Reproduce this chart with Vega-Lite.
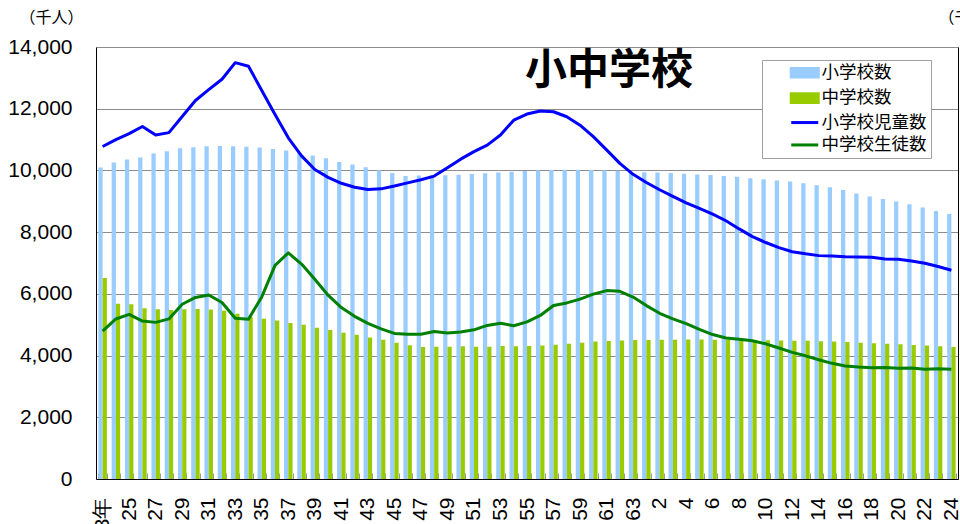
{
  "$schema": "https://vega.github.io/schema/vega-lite/v6.json",
  "width": 862,
  "height": 432,
  "autosize": {"type": "none"},
  "padding": {"left": 96, "top": 47, "right": 2, "bottom": 45},
  "background": "white",
  "title": {"text": "小中学校", "anchor": "start", "frame": "group", "orient": "top", "offset": 0, "dx": 429, "dy": 104, "baseline": "middle", "font": "Noto Sans CJK JP", "fontSize": 42, "fontWeight": "bold", "color": "black"},
  "config": {
    "view": {"stroke": null},
    "axis": {"labelFont": "Liberation Sans", "labelFontSize": 21, "labelColor": "black", "domainColor": "black", "domainWidth": 1, "titleFont": "Noto Sans CJK JP", "titleFontSize": 16, "titleFontWeight": "normal", "titleColor": "black"}
  },
  "data": {"values": [
    {"年": 1948, "小学校数": 25237, "中学校数": 16285, "小学校児童数": 10775, "中学校生徒数": 4793},
    {"年": 1949, "小学校数": 25638, "中学校数": 14200, "小学校児童数": 11000, "中学校生徒数": 5186},
    {"年": 1950, "小学校数": 25878, "中学校数": 14165, "小学校児童数": 11191, "中学校生徒数": 5333},
    {"年": 1951, "小学校数": 26056, "中学校数": 13836, "小学校児童数": 11423, "中学校生徒数": 5119},
    {"年": 1952, "小学校数": 26377, "中学校数": 13748, "小学校児童数": 11148, "中学校生徒数": 5076},
    {"年": 1953, "小学校数": 26555, "中学校数": 13685, "小学校児童数": 11225, "中学校生徒数": 5188},
    {"年": 1954, "小学校数": 26804, "中学校数": 13755, "小学校児童数": 11750, "中学校生徒数": 5664},
    {"年": 1955, "小学校数": 26880, "中学校数": 13767, "小学校児童数": 12267, "中学校生徒数": 5884},
    {"年": 1956, "小学校数": 26957, "中学校数": 13724, "小学校児童数": 12616, "中学校生徒数": 5963},
    {"年": 1957, "小学校数": 26988, "中学校数": 13622, "小学校児童数": 12956, "中学校生徒数": 5718},
    {"年": 1958, "小学校数": 26964, "中学校数": 13392, "小学校児童数": 13492, "中学校生徒数": 5210},
    {"年": 1959, "小学校数": 26916, "中学校数": 13129, "小学校児童数": 13375, "中学校生徒数": 5181},
    {"年": 1960, "小学校数": 26858, "中学校数": 12986, "小学校児童数": 12591, "中学校生徒数": 5900},
    {"年": 1961, "小学校数": 26741, "中学校数": 12849, "小学校児童数": 11811, "中学校生徒数": 6925},
    {"年": 1962, "小学校数": 26615, "中学校数": 12647, "小学校児童数": 11057, "中学校生徒数": 7328},
    {"年": 1963, "小学校数": 26423, "中学校数": 12502, "小学校児童数": 10471, "中学校生徒数": 6964},
    {"年": 1964, "小学校数": 26210, "中学校数": 12263, "小学校児童数": 10030, "中学校生徒数": 6475},
    {"年": 1965, "小学校数": 25977, "中学校数": 12079, "小学校児童数": 9776, "中学校生徒数": 5957},
    {"年": 1966, "小学校数": 25687, "中学校数": 11851, "小学校児童数": 9584, "中学校生徒数": 5556},
    {"年": 1967, "小学校数": 25487, "中学校数": 11684, "小学校児童数": 9453, "中学校生徒数": 5271},
    {"年": 1968, "小学校数": 25262, "中学校数": 11463, "小学校児童数": 9384, "中学校生徒数": 5044},
    {"年": 1969, "小学校数": 25013, "中学校数": 11278, "小学校児童数": 9403, "中学校生徒数": 4865},
    {"年": 1970, "小学校数": 24790, "中学校数": 11040, "小学校児童数": 9493, "中学校生徒数": 4717},
    {"年": 1971, "小学校数": 24540, "中学校数": 10839, "小学校児童数": 9596, "中学校生徒数": 4694},
    {"年": 1972, "小学校数": 24592, "中学校数": 10686, "小学校児童数": 9696, "中学校生徒数": 4688},
    {"年": 1973, "小学校数": 24592, "中学校数": 10710, "小学校児童数": 9816, "中学校生徒数": 4779},
    {"年": 1974, "小学校数": 24606, "中学校数": 10716, "小学校児童数": 10089, "中学校生徒数": 4735},
    {"年": 1975, "小学校数": 24650, "中学校数": 10751, "小学校児童数": 10365, "中学校生徒数": 4762},
    {"年": 1976, "小学校数": 24717, "中学校数": 10719, "小学校児童数": 10610, "中学校生徒数": 4834},
    {"年": 1977, "小学校数": 24777, "中学校数": 10723, "小学校児童数": 10820, "中学校生徒数": 4977},
    {"年": 1978, "小学校数": 24828, "中学校数": 10778, "小学校児童数": 11147, "中学校生徒数": 5048},
    {"年": 1979, "小学校数": 24899, "中学校数": 10746, "小学校児童数": 11630, "中学校生徒数": 4966},
    {"年": 1980, "小学校数": 24945, "中学校数": 10780, "小学校児童数": 11827, "中学校生徒数": 5094},
    {"年": 1981, "小学校数": 25005, "中学校数": 10810, "小学校児童数": 11925, "中学校生徒数": 5300},
    {"年": 1982, "小学校数": 25043, "中学校数": 10879, "小学校児童数": 11902, "中学校生徒数": 5624},
    {"年": 1983, "小学校数": 25045, "中学校数": 10950, "小学校児童数": 11739, "中学校生徒数": 5706},
    {"年": 1984, "小学校数": 25064, "中学校数": 11047, "小学校児童数": 11465, "中学校生徒数": 5828},
    {"年": 1985, "小学校数": 25040, "中学校数": 11131, "小学校児童数": 11095, "中学校生徒数": 5990},
    {"年": 1986, "小学校数": 25020, "中学校数": 11190, "小学校児童数": 10665, "中学校生徒数": 6106},
    {"年": 1987, "小学校数": 24982, "中学校数": 11230, "小学校児童数": 10227, "中学校生徒数": 6081},
    {"年": 1988, "小学校数": 24901, "中学校数": 11266, "小学校児童数": 9873, "中学校生徒数": 5896},
    {"年": 1989, "小学校数": 24851, "中学校数": 11264, "小学校児童数": 9607, "中学校生徒数": 5619},
    {"年": 1990, "小学校数": 24827, "中学校数": 11275, "小学校児童数": 9373, "中学校生徒数": 5369},
    {"年": 1991, "小学校数": 24798, "中学校数": 11290, "小学校児童数": 9157, "中学校生徒数": 5188},
    {"年": 1992, "小学校数": 24730, "中学校数": 11292, "小学校児童数": 8947, "中学校生徒数": 5037},
    {"年": 1993, "小学校数": 24676, "中学校数": 11292, "小学校児童数": 8769, "中学校生徒数": 4850},
    {"年": 1994, "小学校数": 24635, "中学校数": 11289, "小学校児童数": 8583, "中学校生徒数": 4681},
    {"年": 1995, "小学校数": 24548, "中学校数": 11274, "小学校児童数": 8370, "中学校生徒数": 4570},
    {"年": 1996, "小学校数": 24482, "中学校数": 11269, "小学校児童数": 8105, "中学校生徒数": 4528},
    {"年": 1997, "小学校数": 24376, "中学校数": 11257, "小学校児童数": 7855, "中学校生徒数": 4481},
    {"年": 1998, "小学校数": 24295, "中学校数": 11236, "小学校児童数": 7664, "中学校生徒数": 4381},
    {"年": 1999, "小学校数": 24188, "中学校数": 11220, "小学校児童数": 7500, "中学校生徒数": 4244},
    {"年": 2000, "小学校数": 24106, "中学校数": 11209, "小学校児童数": 7366, "中学校生徒数": 4104},
    {"年": 2001, "小学校数": 23964, "中学校数": 11191, "小学校児童数": 7297, "中学校生徒数": 3992},
    {"年": 2002, "小学校数": 23808, "中学校数": 11159, "小学校児童数": 7239, "中学校生徒数": 3863},
    {"年": 2003, "小学校数": 23633, "中学校数": 11134, "小学校児童数": 7227, "中学校生徒数": 3748},
    {"年": 2004, "小学校数": 23420, "中学校数": 11102, "小学校児童数": 7201, "中学校生徒数": 3664},
    {"年": 2005, "小学校数": 23123, "中学校数": 11035, "小学校児童数": 7197, "中学校生徒数": 3626},
    {"年": 2006, "小学校数": 22878, "中学校数": 10992, "小学校児童数": 7188, "中学校生徒数": 3602},
    {"年": 2007, "小学校数": 22693, "中学校数": 10955, "小学校児童数": 7133, "中学校生徒数": 3615},
    {"年": 2008, "小学校数": 22476, "中学校数": 10915, "小学校児童数": 7122, "中学校生徒数": 3592},
    {"年": 2009, "小学校数": 22258, "中学校数": 10864, "小学校児童数": 7064, "中学校生徒数": 3600},
    {"年": 2010, "小学校数": 22000, "中学校数": 10815, "小学校児童数": 6993, "中学校生徒数": 3558},
    {"年": 2011, "小学校数": 21721, "中学校数": 10751, "小学校児童数": 6887, "中学校生徒数": 3574},
    {"年": 2012, "小学校数": 21460, "中学校数": 10699, "小学校児童数": 6765, "中学校生徒数": 3553}
  ]},
  "encoding": {
    "x": {"field": "年", "type": "ordinal", "scale": {"paddingInner": 0.36, "paddingOuter": 0.18},
      "axis": {"title": null, "labelAngle": -90, "labelOverlap": false, "labelExpr": "datum.value % 2 != 0 ? '' : datum.value == 1948 ? '23年' : datum.value <= 1988 ? toString(datum.value - 1925) : toString(datum.value - 1988)", "tickBand": "extent", "tickSize": -6, "tickColor": "#999999", "labelPadding": 24, "grid": false, "labelFont": "Liberation Sans"}}
  },
  "layer": [
    {
      "transform": [{"fold": ["小学校数", "中学校数"], "as": ["系列", "値"]}],
      "mark": {"type": "bar"},
      "encoding": {
        "xOffset": {"field": "系列", "type": "nominal", "sort": ["小学校数", "中学校数"], "scale": {"paddingInner": 0, "paddingOuter": 0}},
        "y": {"field": "値", "type": "quantitative", "scale": {"domain": [0, 35000]},
          "axis": {"orient": "right", "title": "（千校）", "titleAngle": 0, "titleX": -20, "titleY": -30, "titleAlign": "left", "titleBaseline": "middle", "grid": false, "ticks": false, "labelPadding": 24, "format": ",d", "values": [0, 5000, 10000, 15000, 20000, 25000, 30000, 35000]}},
        "color": {"field": "系列", "type": "nominal",
          "scale": {"domain": ["小学校数", "中学校数", "小学校児童数", "中学校生徒数"], "range": ["#99CCFF", "#99CC00", "#0000FF", "#008000"]},
          "legend": {"orient": "none", "legendX": 666, "legendY": 13, "title": null, "fillColor": "white", "strokeColor": "#a0a0a0", "padding": 4, "labelFont": "Noto Sans CJK JP", "labelFontSize": 17.5, "labelColor": "black", "labelLimit": 300, "symbolSize": 100, "symbolOffset": 30, "labelOffset": 8, "rowPadding": 3.4, "symbolType": "M-2.7,-0.87H2.7V0.87H-2.7Z", "symbolStrokeWidth": 3,
            "encode": {"symbols": {"update": {
              "shape": {"signal": "(datum.value == '小学校数' || datum.value == '中学校数') ? 'M-2.7,-0.87H2.7V0.87H-2.7Z' : 'M-2.7,0H2.7'"},
              "fill": {"signal": "(datum.value == '小学校数' || datum.value == '中学校数') ? scale('color', datum.value) : 'transparent'"},
              "stroke": {"signal": "(datum.value == '小学校数' || datum.value == '中学校数') ? 'transparent' : scale('color', datum.value)"},
              "strokeWidth": {"value": 3},
              "opacity": {"value": 1}
            }}}}}
      }
    },
    {
      "transform": [{"fold": ["小学校児童数", "中学校生徒数"], "as": ["系列", "値"]}],
      "mark": {"type": "line", "strokeWidth": 3, "strokeJoin": "round"},
      "encoding": {
        "y": {"field": "値", "type": "quantitative", "scale": {"domain": [0, 14000]},
          "axis": {"orient": "left", "title": "（千人）", "titleAngle": 0, "titleX": -45, "titleY": -30, "titleAlign": "center", "titleBaseline": "middle", "values": [0, 2000, 4000, 6000, 8000, 10000, 12000, 14000], "format": ",d", "grid": true, "gridColor": "#8c8c8c", "ticks": false, "labelPadding": 24}},
        "color": {"field": "系列", "type": "nominal",
          "scale": {"domain": ["小学校数", "中学校数", "小学校児童数", "中学校生徒数"], "range": ["#99CCFF", "#99CC00", "#0000FF", "#008000"]}}
      }
    }
  ],
  "resolve": {"scale": {"y": "independent"}}
}
